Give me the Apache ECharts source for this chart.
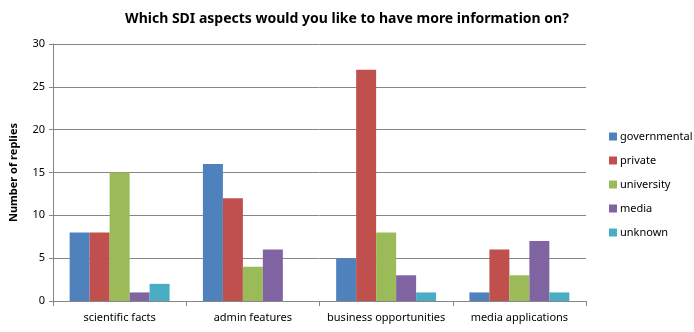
<!DOCTYPE html>
<html><head><meta charset="utf-8">
<script src="https://cdn.jsdelivr.net/npm/echarts@6/dist/echarts.min.js"></script>
<style>html,body{margin:0;padding:0;background:#fff}#c{width:694px;height:332px}</style>
</head><body><div id="c"></div>
<script>
const categories = ['scientific facts', 'admin features', 'business opportunities', 'media applications'];
const seriesNames = ['governmental', 'private', 'university', 'media', 'unknown'];
const governmental = [8, 16, 5, 1];
const privateV = [8, 12, 27, 6];
const university = [15, 4, 8, 3];
const media = [1, 6, 3, 7];
const unknown = [2, 0, 1, 1];
const yTicks = [0, 5, 10, 15, 20, 25, 30];
const colors = ['#4F81BD', '#C0504D', '#9BBB59', '#8064A2', '#4BACC6'];
const values = [governmental, privateV, university, media, unknown];
const font = 'Noto Sans';
const chart = echarts.init(document.getElementById('c'));
chart.setOption({
  animation: false,
  color: colors,
  title: {
    text: 'Which SDI aspects would you like to have more information on?',
    left: 'center', top: 7,
    textStyle: {fontFamily: font, fontSize: 14, fontWeight: 'bold', color: '#000'}
  },
  legend: {
    orient: 'vertical', left: 604, top: 126, itemGap: 13,
    itemWidth: 8, itemHeight: 8, icon: 'rect',
    textStyle: {fontFamily: font, fontSize: 11, color: '#000', padding: [0, 0, 0, -2]},
    data: seriesNames
  },
  grid: {left: 52, top: 44, width: 534, height: 257, containLabel: false},
  xAxis: {
    type: 'category', data: categories,
    axisLine: {lineStyle: {color: '#868686'}},
    axisTick: {show: true, length: 5, lineStyle: {color: '#868686'}},
    axisLabel: {interval: 0, fontFamily: font, fontSize: 11, color: '#000', margin: 11}
  },
  yAxis: {
    type: 'value', min: yTicks[0], max: yTicks[yTicks.length - 1], interval: 5,
    name: 'Number of replies', nameLocation: 'middle', nameGap: 34, nameRotate: 90,
    nameTextStyle: {fontFamily: font, fontSize: 11, fontWeight: 'bold', color: '#000'},
    axisLine: {show: true, lineStyle: {color: '#868686'}},
    axisTick: {show: true, length: 4, lineStyle: {color: '#868686'}},
    axisLabel: {fontFamily: font, fontSize: 11, color: '#000', margin: 8},
    splitLine: {lineStyle: {color: '#868686'}}
  },
  series: seriesNames.map((n, i) => ({
    name: n, type: 'bar', data: values[i],
    barGap: '0%', barCategoryGap: '25%'
  }))
});
</script></body></html>
